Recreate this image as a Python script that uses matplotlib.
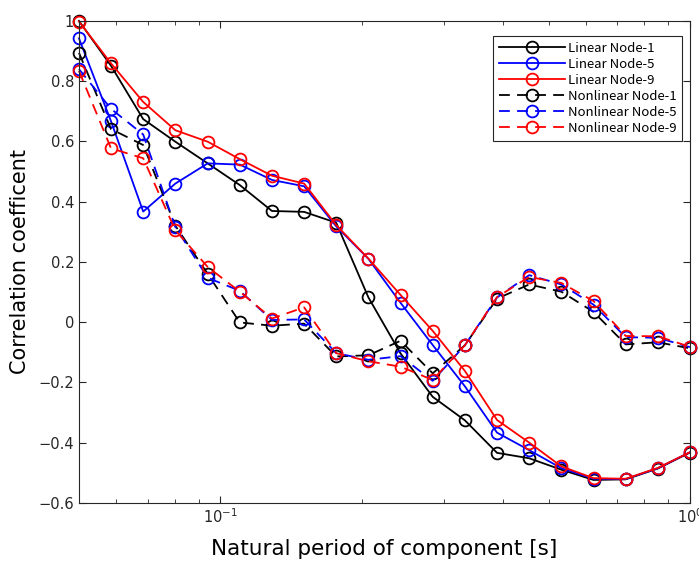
import numpy as np
import matplotlib
matplotlib.use("Agg")
import matplotlib.pyplot as plt
from matplotlib.ticker import FixedLocator, NullFormatter

# natural periods of the components [s]
periods = [0.05, 0.0585, 0.0685, 0.0802, 0.0940, 0.1100, 0.1288, 0.1508, 0.1765, 0.2067,
           0.2420, 0.2833, 0.3317, 0.3884, 0.4547, 0.5324, 0.6233, 0.7298, 0.8544, 1.0]

# correlation coefficients
lin1 = [1.0, 0.851, 0.674, 0.599, 0.527, 0.455, 0.369, 0.366, 0.330, 0.082,
        -0.104, -0.248, -0.326, -0.434, -0.452, -0.490, -0.524, -0.522, -0.486, -0.433]
lin5 = [0.942, 0.667, 0.367, 0.460, 0.527, 0.523, 0.472, 0.451, 0.318, 0.210,
        0.064, -0.076, -0.213, -0.367, -0.425, -0.485, -0.520, -0.521, -0.485, -0.432]
lin9 = [0.998, 0.859, 0.731, 0.637, 0.599, 0.541, 0.486, 0.460, 0.322, 0.211,
        0.090, -0.029, -0.162, -0.325, -0.400, -0.479, -0.518, -0.520, -0.484, -0.432]
nl1 = [0.894, 0.641, 0.588, 0.320, 0.160, -0.001, -0.012, -0.005, -0.114, -0.110,
       -0.062, -0.170, -0.077, 0.078, 0.125, 0.101, 0.034, -0.074, -0.067, -0.087]
nl5 = [0.840, 0.708, 0.623, 0.316, 0.147, 0.104, 0.007, 0.009, -0.103, -0.125,
       -0.113, -0.195, -0.077, 0.082, 0.156, 0.125, 0.058, -0.050, -0.052, -0.083]
nl9 = [0.834, 0.577, 0.544, 0.305, 0.183, 0.101, 0.012, 0.049, -0.103, -0.130,
       -0.148, -0.192, -0.077, 0.083, 0.150, 0.130, 0.070, -0.046, -0.047, -0.082]

labels = ["Linear Node-1", "Linear Node-5", "Linear Node-9",
          "Nonlinear Node-1", "Nonlinear Node-5", "Nonlinear Node-9"]
colors = ["black", "blue", "red", "black", "blue", "red"]
styles = ["-", "-", "-", "--", "--", "--"]

fig = plt.figure(figsize=(6.99, 5.65), dpi=100)
ax = fig.add_axes([0.113, 0.110, 0.874, 0.853])

for y, lab, c, ls in zip([lin1, lin5, lin9, nl1, nl5, nl9], labels, colors, styles):
    line, = ax.plot(periods, y, color=c, linestyle=ls, linewidth=1.3,
                    marker="o", markersize=8.5, markerfacecolor="none",
                    markeredgewidth=1.3, label=lab, clip_on=False)
    if ls == "--":
        line.set_dashes((6, 4))

ax.set_xscale("log")
ax.set_xlim(0.05, 1.0)
ax.set_ylim(-0.6, 1.0)
ax.set_yticks([-0.6, -0.4, -0.2, 0, 0.2, 0.4, 0.6, 0.8, 1.0])
ax.set_yticklabels(["\u22120.6", "\u22120.4", "\u22120.2", "0", "0.2", "0.4", "0.6", "0.8", "1"])
ax.xaxis.set_minor_locator(FixedLocator([0.06, 0.07, 0.08, 0.09, 0.2, 0.3, 0.4, 0.5,
                                         0.6, 0.7, 0.8, 0.9]))
ax.xaxis.set_minor_formatter(NullFormatter())
ax.tick_params(which="both", direction="in", top=True, right=True,
               colors="#262626", labelsize=10.5)
ax.tick_params(which="major", length=5)
ax.tick_params(which="minor", length=3)
for s in ax.spines.values():
    s.set_color("#262626")
    s.set_linewidth(0.8)

ax.set_xlabel("Natural period of component [s]", fontsize=15.5, labelpad=9)
ax.set_ylabel("Correlation coefficent", fontsize=15, labelpad=6)

leg = ax.legend(loc="upper right", bbox_to_anchor=(0.998, 0.982), handlelength=5.0,
                handletextpad=0.2, borderpad=0.45, labelspacing=0.22, fancybox=False,
                edgecolor="#262626", framealpha=1,
                prop={"family": ["Noto Sans CJK JP", "DejaVu Sans"], "size": 9.5})
leg.get_frame().set_linewidth(0.8)

fig.savefig("out.png", dpi=100)
